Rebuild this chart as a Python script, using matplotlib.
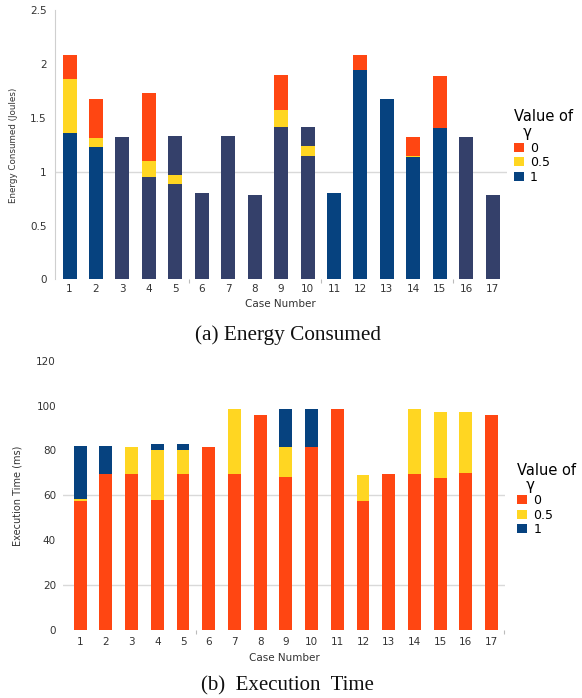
import matplotlib
matplotlib.use("Agg")
import matplotlib.pyplot as plt
from matplotlib.patches import Patch

# ---------------- data ----------------
cases = list(range(1, 18))
case_labels = [str(c) for c in cases]

# (a) Energy consumed (Joules) for each value of gamma
energy_g0 = [2.09, 1.68, 1.32, 1.73, 1.33, 0.80, 1.33, 0.785, 1.90, 1.415,
             0.80, 2.09, 1.68, 1.32, 1.89, 1.325, 0.785]
energy_g05 = [1.86, 1.315, 1.32, 1.10, 0.975, 0.80, 1.33, 0.785, 1.575, 1.24,
              0.80, 1.95, 1.68, 1.145, 1.41, 1.325, 0.785]
energy_g1 = [1.365, 1.23, 1.32, 0.954, 1.33, 0.80, 1.33, 0.785, 1.42, 1.415,
             0.80, 1.95, 1.68, 1.134, 1.41, 1.325, 0.785]

# (b) Execution time (ms) for each value of gamma
time_g0 = [57.5, 69.5, 69.5, 57.8, 69.5, 81.7, 69.5, 95.6, 68.1, 81.5,
           98.4, 57.6, 69.5, 69.5, 67.6, 69.8, 95.9]
time_g05 = [58.4, 69.5, 81.7, 80.0, 80.0, 81.7, 98.4, 95.6, 81.7, 81.5,
            98.4, 69.3, 69.5, 98.7, 97.0, 97.0, 95.9]
time_g1 = [82.0, 82.0, 81.7, 82.7, 82.7, 81.7, 98.4, 95.6, 98.4, 98.4,
           98.4, 69.3, 69.5, 98.7, 97.0, 97.0, 95.9]

legend_labels = ["0", "0.5", "1"]
energy_ticks = [0, 0.5, 1, 1.5, 2, 2.5]
energy_tick_labels = ["0", "0.5", "1", "1.5", "2", "2.5"]
time_ticks = [0, 20, 40, 60, 80, 100, 120]
time_tick_labels = ["0", "20", "40", "60", "80", "100", "120"]

# ---------------- style ----------------
RED = "#FF4612"
YEL = "#FFD622"
BLUE = "#06427F"
DARK = "#34406A"
# shade of the gamma=1 bar per case in panel (a)
dark_cases = {3, 4, 5, 6, 7, 8, 9, 10, 16, 17}
blue_colors = [DARK if c in dark_cases else BLUE for c in cases]
TXT = "#333333"
GRID = "#d9d9d9"

plt.rcParams["font.family"] = ["DejaVu Sans"]

fig = plt.figure(figsize=(5.82, 6.98), dpi=100)

# ---------------- panel (a) ----------------
ax1 = fig.add_axes([0.0945, 0.5996, 0.7761, 0.3854])
w1 = 0.53
ax1.axhline(1, color=GRID, lw=1.0, zorder=0)
ax1.bar(cases, energy_g0, width=w1, color=RED, zorder=2)
ax1.bar(cases, energy_g05, width=w1, color=YEL, zorder=3)
ax1.bar(cases, energy_g1, width=w1, color=blue_colors, zorder=4)
# gamma=0.5 values that lie below the gamma=1 bar top show as a small band
for c, y05, y1 in zip(cases, energy_g05, energy_g1):
    if y05 < y1 - 0.05:
        ax1.bar(c, 0.09, bottom=y05 - 0.09, width=w1, color=YEL, zorder=5)
ax1.set_xlim(0.45, 17.53)
ax1.set_ylim(0, 2.5)
ax1.set_yticks(energy_ticks)
ax1.set_yticklabels(energy_tick_labels)
ax1.set_xticks(cases)
ax1.set_xticklabels(case_labels)
ax1.set_xticks([5.5, 10.5, 15.5], minor=True)
for s in ["top", "right", "bottom"]:
    ax1.spines[s].set_visible(False)
ax1.spines["left"].set_color("#cfcfcf")
ax1.spines["left"].set_linewidth(0.8)
ax1.tick_params(axis="both", which="major", length=0, labelsize=7.5,
                labelcolor=TXT)
ax1.tick_params(axis="y", pad=6)
ax1.tick_params(axis="x", pad=3)
ax1.tick_params(axis="x", which="minor", length=3, color="#bbbbbb", width=0.8)
ax1.set_xlabel("Case Number", fontsize=7.5, color=TXT, labelpad=4)
ax1.set_ylabel("Energy Consumed (Joules)", fontsize=6.3, color=TXT, labelpad=9)

handles = [Patch(facecolor=RED), Patch(facecolor=YEL), Patch(facecolor=BLUE)]
leg_kw = dict(loc="upper left", bbox_transform=fig.transFigure, frameon=False,
              fontsize=9, title_fontsize=10.5, handlelength=0.8,
              handleheight=0.7, handletextpad=0.5, labelspacing=0.12,
              borderpad=0, alignment="left")
leg1 = ax1.legend(handles, legend_labels, title="Value of\n  γ",
                  bbox_to_anchor=(0.872, 0.853), **leg_kw)
leg1.get_title().set_linespacing(1.1)

# ---------------- panel (b) ----------------
ax2 = fig.add_axes([0.1082, 0.0974, 0.7595, 0.3858])
w2 = 0.5
ax2.axhline(20, color=GRID, lw=1.0, zorder=0)
ax2.axhline(60, color=GRID, lw=1.0, zorder=0)
ax2.bar(cases, time_g1, width=w2, color=BLUE, zorder=2)
ax2.bar(cases, time_g05, width=w2, color=YEL, zorder=3)
ax2.bar(cases, time_g0, width=w2, color=RED, zorder=4)
ax2.set_xlim(0.33, 17.52)
ax2.set_ylim(0, 120)
ax2.set_yticks(time_ticks)
ax2.set_yticklabels(time_tick_labels)
ax2.set_xticks(cases)
ax2.set_xticklabels(case_labels)
ax2.set_xticks([5.5, 17.5], minor=True)
for s in ["top", "right", "bottom", "left"]:
    ax2.spines[s].set_visible(False)
ax2.tick_params(axis="both", which="major", length=0, labelsize=7.5,
                labelcolor=TXT)
ax2.tick_params(axis="y", pad=5)
ax2.tick_params(axis="x", pad=5)
ax2.tick_params(axis="x", which="minor", length=3, color="#bbbbbb", width=0.8)
ax2.set_xlabel("Case Number", fontsize=7.5, color=TXT, labelpad=4)
ax2.set_ylabel("Execution Time (ms)", fontsize=7, color=TXT, labelpad=10)

leg2 = ax2.legend(handles, legend_labels, title="Value of\n  γ",
                  bbox_to_anchor=(0.878, 0.346), **leg_kw)
leg2.get_title().set_linespacing(1.0)

# ---------------- captions ----------------
fig.text(0.494, 1 - 335 / 698, "(a) Energy Consumed", ha="center", va="center",
         fontsize=15.3, family="Liberation Serif", color="#111111")
fig.text(0.494, 1 - 686 / 698, "(b)  Execution  Time", ha="center", va="center",
         fontsize=15, family="Liberation Serif", color="#111111")

fig.savefig("out.png", dpi=100, facecolor="white")
